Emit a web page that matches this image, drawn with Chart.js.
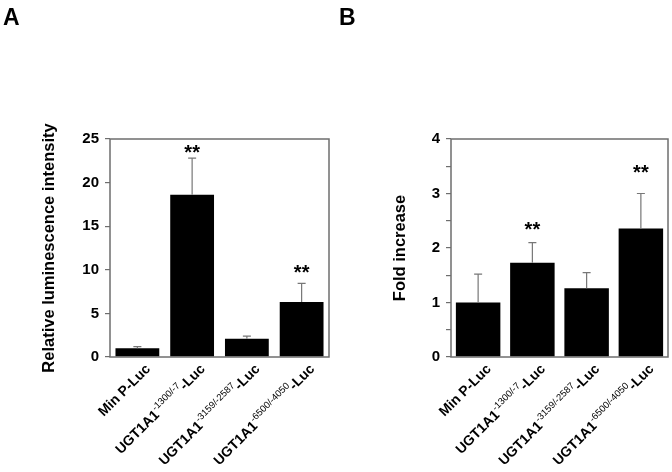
<!DOCTYPE html>
<html>
<head>
<meta charset="utf-8">
<script src="https://cdn.jsdelivr.net/npm/chart.js@4"></script>
<style>
  html, body { margin: 0; padding: 0; background: #fff; }
  #wrap { position: relative; width: 672px; height: 472px; }
  canvas { position: absolute; top: 0; }
  #chartA { left: 0; }
  #chartB { left: 336px; }
</style>
</head>
<body>
<div id="wrap">
  <canvas id="chartA" width="336" height="472"></canvas>
  <canvas id="chartB" width="336" height="472"></canvas>
</div>
<script>
// ---- data ----
const categories = ['Min P-Luc', 'UGT1A1 -1300/-7', 'UGT1A1 -3159/-2587', 'UGT1A1 -6500/-4050'];
// label pieces: [main, superscript, suffix]
const labelMain = ['Min P-Luc', 'UGT1A1', 'UGT1A1', 'UGT1A1'];
const labelSup = ['', '-1300/-7', '-3159/-2587', '-6500/-4050'];
const labelSuffix = ['', '-Luc', '-Luc', '-Luc'];

const lumValues = [1.0, 18.6, 2.1, 6.3];
const lumErrTop = [1.2, 22.8, 2.4, 8.45];
const lumStars = [null, 24.0, null, 10.2];
const lumTicks = [0, 5, 10, 15, 20, 25];

const foldValues = [1.0, 1.73, 1.26, 2.36];
const foldErrTop = [1.52, 2.1, 1.55, 3.0];
const foldStars = [null, 2.42, null, 3.47];
const foldTicks = [0, 0.5, 1, 1.5, 2, 2.5, 3, 3.5, 4];

const FONT = '"Liberation Sans", Arial, Helvetica, sans-serif';
const AXIS_GREY = '#6e6e6e';

// ---- plugins ----
const boxPlugin = {
    id: 'box',
    afterDraw(chart) {
        const a = chart.chartArea;
        const ctx = chart.ctx;
        ctx.save();
        ctx.strokeStyle = AXIS_GREY;
        ctx.lineWidth = 1.5;
        ctx.strokeRect(a.left, a.top, a.right - a.left, a.bottom - a.top);
        ctx.restore();
    }
};

const errorBarPlugin = {
    id: 'errbars',
    afterDatasetsDraw(chart, args, opts) {
        const ctx = chart.ctx;
        const y = chart.scales.y;
        const meta = chart.getDatasetMeta(0);
        const vals = chart.data.datasets[0].data;
        ctx.save();
        ctx.strokeStyle = '#777';
        ctx.lineWidth = 1.2;
        meta.data.forEach((bar, i) => {
            const y0 = y.getPixelForValue(vals[i]);
            const y1 = y.getPixelForValue(opts.top[i]);
            ctx.beginPath();
            ctx.moveTo(bar.x, y0);
            ctx.lineTo(bar.x, y1);
            ctx.moveTo(bar.x - 4, y1);
            ctx.lineTo(bar.x + 4, y1);
            ctx.stroke();
        });
        // significance stars
        ctx.fillStyle = '#000';
        ctx.font = 'bold 20px ' + FONT;
        ctx.textAlign = 'center';
        ctx.textBaseline = 'alphabetic';
        meta.data.forEach((bar, i) => {
            if (opts.stars[i] == null) return;
            ctx.fillText('**', bar.x, y.getPixelForValue(opts.stars[i]) + 11);
        });
        ctx.restore();
    }
};

const xLabelPlugin = {
    id: 'xlabels',
    afterDraw(chart) {
        const ctx = chart.ctx;
        const x = chart.scales.x;
        const base = chart.chartArea.bottom;
        const bigFont = 'bold 14px ' + FONT;
        const supFont = '9.5px ' + FONT;
        ctx.save();
        ctx.fillStyle = '#000';
        labelMain.forEach((main, i) => {
            const cx = x.getPixelForValue(i);
            ctx.save();
            ctx.translate(cx + 11, base + 10);
            ctx.rotate(-Math.PI / 4);
            ctx.textBaseline = 'middle';
            ctx.textAlign = 'left';
            ctx.font = bigFont;
            const w1 = ctx.measureText(main).width;
            ctx.font = supFont;
            const w2 = ctx.measureText(labelSup[i]).width;
            ctx.font = bigFont;
            const w3 = ctx.measureText(labelSuffix[i]).width;
            let px = -(w1 + w2 + w3);
            ctx.font = bigFont;
            ctx.fillText(main, px, 0);
            px += w1;
            ctx.font = supFont;
            ctx.fillText(labelSup[i], px, -5);
            px += w2;
            ctx.font = bigFont;
            ctx.fillText(labelSuffix[i], px, 0);
            ctx.restore();
        });
        ctx.restore();
    }
};

const panelLetter = {
    id: 'letter',
    afterDraw(chart, args, opts) {
        const ctx = chart.ctx;
        ctx.save();
        ctx.fillStyle = '#000';
        ctx.font = 'bold 23px ' + FONT;
        ctx.textBaseline = 'alphabetic';
        ctx.fillText(opts.text, 3, 25);
        ctx.restore();
    }
};

function makeChart(canvas, cfg) {
    return new Chart(canvas.getContext('2d'), {
        type: 'bar',
        data: {
            labels: categories,
            datasets: [{
                data: cfg.values,
                backgroundColor: '#000',
                borderWidth: 0,
                categoryPercentage: 1.0,
                barPercentage: cfg.barPct
            }]
        },
        options: {
            responsive: false,
            animation: false,
            layout: { padding: cfg.padding },
            plugins: {
                legend: { display: false },
                tooltip: { enabled: false },
                errbars: { top: cfg.errTop, stars: cfg.stars },
                letter: { text: cfg.letter }
            },
            scales: {
                x: {
                    ticks: { display: false },
                    grid: { display: false },
                    border: { display: false },
                    afterFit(scale) { scale.height = 115; }
                },
                y: {
                    min: 0,
                    max: cfg.ticks[cfg.ticks.length - 1],
                    afterBuildTicks(scale) {
                        scale.ticks = cfg.ticks.map(v => ({ value: v }));
                    },
                    afterFit(scale) { scale.width = cfg.yWidth; },
                    ticks: {
                        color: '#000',
                        padding: 6,
                        font: { family: FONT, size: 15, weight: 'bold' },
                        callback: v => (Number.isInteger(v) ? String(v) : '')
                    },
                    grid: {
                        drawOnChartArea: false,
                        drawTicks: true,
                        tickLength: 5,
                        color: AXIS_GREY,
                        lineWidth: 1.2
                    },
                    border: { display: false },
                    title: {
                        display: true,
                        text: cfg.title,
                        color: '#000',
                        font: { family: FONT, size: 16.5, weight: 'bold' }
                    }
                }
            }
        },
        plugins: [boxPlugin, errorBarPlugin, xLabelPlugin, panelLetter]
    });
}

makeChart(document.getElementById('chartA'), {
    values: lumValues, errTop: lumErrTop, stars: lumStars, ticks: lumTicks,
    title: 'Relative luminescence intensity', letter: 'A',
    padding: { left: 36, top: 139, right: 7, bottom: 0 },
    yWidth: 74, barPct: 0.8
});

makeChart(document.getElementById('chartB'), {
    values: foldValues, errTop: foldErrTop, stars: foldStars, ticks: foldTicks,
    title: 'Fold increase', letter: 'B',
    padding: { left: 51, top: 139, right: 4, bottom: 0 },
    yWidth: 64, barPct: 0.82
});
</script>
</body>
</html>
